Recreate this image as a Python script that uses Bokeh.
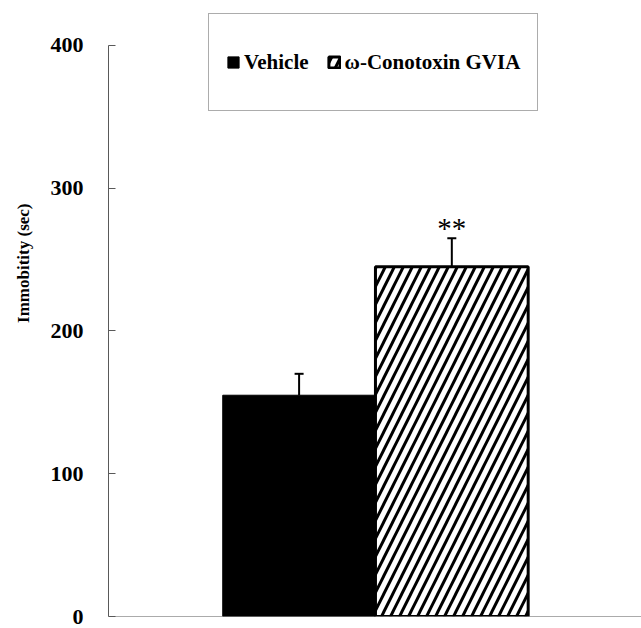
from bokeh.plotting import figure
from bokeh.models import (ColumnDataSource, Whisker, TeeHead, Span, Title,
                          Legend, LegendItem, Range1d)
from bokeh.core.properties import value
from bokeh.embed import file_html
from bokeh.resources import INLINE

# ---- data ----
groups = ["Vehicle", "ω-Conotoxin GVIA"]
positions = [1, 2]
means = [155, 245]
sems = [15, 20]
significance = ["", "**"]
y_ticks = [0, 100, 200, 300, 400]
y_label = "Immobitity (sec)"

SERIF = "Liberation Serif"

p = figure(width=641, height=628, output_backend="svg", toolbar_location=None,
           x_range=Range1d(-0.248, 3.242), y_range=Range1d(0, 431.5),
           min_border_left=107, min_border_right=0, min_border_top=0,
           min_border_bottom=12)
p.outline_line_color = None
p.xgrid.visible = False
p.ygrid.visible = False
p.xaxis.visible = False
p.background_fill_color = "white"
p.border_fill_color = "white"

fills = ["black", "white"]
hatches = [" ", "/"]
line_widths = [1, 3]
renderers = []
for i in range(len(groups)):
    src = ColumnDataSource(dict(x=[positions[i]], top=[means[i]]))
    r = p.vbar(x="x", top="top", bottom=0, width=1.0, source=src,
               fill_color=fills[i], line_color="black", line_width=line_widths[i],
               hatch_pattern=hatches[i], hatch_color="black",
               hatch_weight=3, hatch_scale=18)
    renderers.append(r)

err_src = ColumnDataSource(dict(
    x=positions, lower=means,
    upper=[m + s for m, s in zip(means, sems)],
    sig=significance))

p.add_layout(Whisker(source=err_src, base="x", lower="lower", upper="upper",
                     dimension="height", line_color="black", line_width=2,
                     lower_head=None,
                     upper_head=TeeHead(size=9, line_width=2, line_color="black")))

p.text(x="x", y="upper", text="sig", source=err_src, text_align="center",
       text_baseline="bottom", y_offset=6,
       text_font=value(SERIF), text_font_size="29px", text_color="black")

# baseline (x axis line)
p.add_layout(Span(location=0, dimension="width", line_color="#595959", line_width=1))

# y axis
ya = p.yaxis[0]
ya.ticker = y_ticks
ya.bounds = (0, 400)
ya.axis_line_color = "#595959"
ya.major_tick_line_color = "#595959"
ya.major_tick_in = 7
ya.major_tick_out = 0
ya.minor_tick_line_color = None
ya.major_label_standoff = 25
ya.major_label_text_font = SERIF
ya.major_label_text_font_style = "bold"
ya.major_label_text_font_size = "22px"
ya.major_label_text_color = "black"

p.add_layout(Title(text=y_label, align="right", offset=203, standoff=26,
                   vertical_align="top",
                   text_font=SERIF, text_font_style="bold",
                   text_font_size="17px", text_color="black"), "left")

legend = Legend(items=[LegendItem(label=groups[i], renderers=[renderers[i]])
                       for i in range(len(groups))],
                orientation="horizontal", location=(100, 505),
                label_text_font=SERIF, label_text_font_style="bold",
                label_text_font_size="21px", label_text_color="black",
                glyph_width=14, glyph_height=14, label_standoff=4,
                spacing=18, padding=17, label_height=62,
                border_line_color="#595959", border_line_width=1.5,
                background_fill_color="white", background_fill_alpha=1)
p.add_layout(legend)

open("out.html", "w").write(file_html(p, INLINE))
